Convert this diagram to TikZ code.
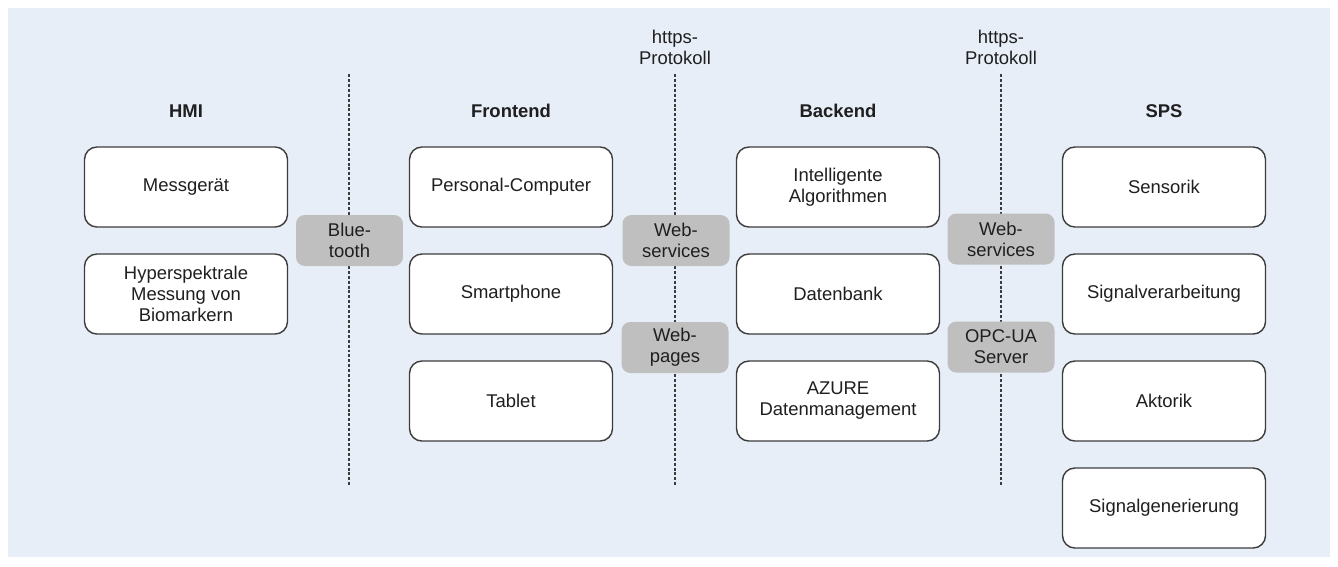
\documentclass[tikz,border=0pt]{standalone}
\usepackage{fontspec}
\setmainfont{Liberation Sans}
\usetikzlibrary{positioning}
\definecolor{bgblue}{HTML}{E8EEF8}
\definecolor{ifgray}{HTML}{BFBFBF}
\definecolor{lngray}{HTML}{3C3C3C}

\begin{document}
\begin{tikzpicture}[x=0.02cm,y=-0.02cm,font=\fontsize{10.5}{12}\selectfont,text=black!88]
\tikzstyle{b}=[draw=lngray,line width=0.8pt,rounded corners=7pt,fill=white,minimum width=4.06cm,minimum height=1.6cm,align=center]
\tikzstyle{g}=[fill=ifgray,rounded corners=5pt,minimum width=2.14cm,minimum height=1.02cm,align=center]
\tikzstyle{h}=[font=\fontsize{10.5}{12}\selectfont\bfseries]
\tikzstyle{sep}=[draw=lngray,dash pattern=on 1.7pt off 1.1pt,line width=0.6pt]
\useasboundingbox (0,0) rectangle (1338,566);
\fill[bgblue] (8,8) rectangle (1330,557);
% separators between the layers
\foreach \i/\x in {0/349,1/675,2/1001} {\coordinate (t\i) at (\x,74); \coordinate (u\i) at (\x,486); \draw[sep] (t\i) -- (u\i);}
\node[align=center] (pr1) at (675,47) {https-\\Protokoll};
\node[align=center] (pr2) at (1001,47) {https-\\Protokoll};
% column titles
\foreach \x/\t/\n in {186/HMI/hmi,511/Frontend/fe,838/Backend/be,1164/SPS/sps} \node[h] (\n) at (\x,111) {\t};
% boxes
\foreach \i/\t in {0/Messgerät,1/{Hyperspektrale\\Messung von\\Biomarkern}} \node[b] (hmi\i) at (186,187+\i*107) {\t};
\foreach \i/\t in {0/Personal-Computer,1/Smartphone,2/Tablet} \node[b] (fe\i) at (511,187+\i*107) {\t};
\foreach \i/\t in {0/{Intelligente\\Algorithmen},1/Datenbank,2/{AZURE\\Datenmanagement}} \node[b] (be\i) at (838,187+\i*107) {\t};
\foreach \i/\t in {0/Sensorik,1/Signalverarbeitung,2/Aktorik,3/Signalgenerierung} \node[b] (sps\i) at (1164,187+\i*107) {\t};
% interfaces
\node[g] (bt) at (349.5,240.5) {Blue-\\tooth};
\node[g] (ws1) at (676,240.5) {Web-\\services};
\node[g] (wp) at (675,347.5) {Web-\\pages};
\node[g] (ws2) at (1001,239) {Web-\\services};
\node[g] (opc) at (1001,347) {OPC-UA\\Server};
\end{tikzpicture}
\end{document}
